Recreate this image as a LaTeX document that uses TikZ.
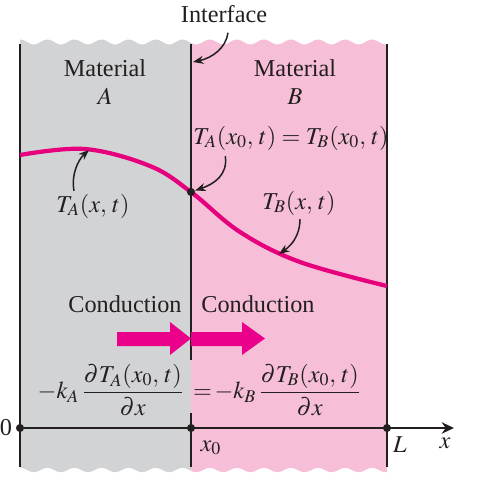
\documentclass[tikz,border=0pt]{standalone}
\usepackage{amsmath}
\usepackage{mathptmx}
\usepackage[no-math]{fontspec}
\setmainfont{Liberation Serif}
\usepackage{tikz}
\usetikzlibrary{arrows.meta, calc}
\usepackage{xcolor}
\definecolor{ink}{HTML}{231F20}
\definecolor{greyA}{HTML}{D2D3D5}
\definecolor{pinkB}{HTML}{F7BFD7}
\definecolor{magline}{HTML}{E6007E}
\definecolor{magflux}{HTML}{EB008B}
\tikzset{
    lbl/.style={
        inner sep=1pt, text=ink,
        font=\fontsize{13.8}{16}\selectfont, align=center
    },
    slabA/.style={fill=greyA},
    slabB/.style={fill=pinkB},
    wall/.style={line width=1.2pt, draw=ink},
    profile/.style={line width=2.4pt, draw=magline},
    flux/.style={fill=magflux},
    callout/.style={-{Stealth[length=6pt, width=4.6pt]}, line width=0.85pt, draw=ink},
    axisline/.style={-{Stealth[length=7pt, width=6.5pt]}, line width=1.1pt, draw=ink},
    dot/.style={circle, fill=ink, inner sep=0pt, minimum size=4.6pt}
}
\begin{document}
\begin{tikzpicture}[x=0.02cm, y=-0.02cm]
    \useasboundingbox (0,0) rectangle (479,486);
    % the two slabs with torn edges
    \fill[slabA] (20,469) -- plot[domain=20:191, samples=70] (\x,{42+2.5*sin(13.3*\x)})
        -- (191,469) -- plot[domain=191:20, samples=70] (\x,{470+2.2*sin(13.3*\x)}) -- cycle;
    \fill[slabB] (191,469) -- plot[domain=191:387, samples=80] (\x,{42+2.5*sin(13.3*\x)})
        -- (387,469) -- plot[domain=387:191, samples=80] (\x,{470+2.2*sin(13.3*\x)}) -- cycle;
    \draw[wall] (20,44) -- (20,467);
    \draw[wall] (387,44) -- (387,467);
    \draw[wall] (191,44) -- (191,360);
    \draw[wall] (191,413) -- (191,467);

    \draw[profile] plot[smooth, tension=0.6] coordinates
        {(20,155) (85,149) (150,166) (191,192) (240,232) (300,262) (387,286)};

    \fill[flux] (117,332) -- (170,332) -- (170,322) -- (191,338.5)
        -- (170,355) -- (170,346) -- (117,346) -- cycle;
    \fill[flux] (191,332) -- (242,332) -- (242,322) -- (265,338.5)
        -- (242,355) -- (242,346) -- (191,346) -- cycle;

    \node[lbl] (iflbl) at (224,14) {Interface};
    \node[lbl] (matAlbl) at (105,82) {Material\\$A$};
    \node[lbl] (matBlbl) at (295,82) {Material\\$B$};
    \node[lbl] (tab) at (291,138) {$T_A(x_0,\,t) = T_B(x_0,\,t)$};
    \node[lbl] (taxt) at (93,206) {$T_A(x,\,t)$};
    \node[lbl] (tbxt) at (299,203) {$T_B(x,\,t)$};
    \node[lbl] (condA) at (125,304) {Conduction};
    \node[lbl] (condB) at (258,304) {Conduction};
    \node[lbl, anchor=east] (fluxA) at (186,390) {${-}k_A\,\dfrac{\partial T_A(x_0,\,t)}{\partial x}$};
    \node[lbl, anchor=west] (fluxB) at (191,390) {${=}\,{-}k_B\,\dfrac{\partial T_B(x_0,\,t)}{\partial x}$};

    \node[dot] (meet) at (191,192) {};
    \coordinate (ifpt) at (193,62);
    \coordinate (peak) at (89,150);
    \coordinate (tbpt) at (279,254);

    \draw[callout] ($(iflbl.south)+(4,8)$) .. controls (226,48) and (212,58) .. (ifpt);
    \draw[callout] ($(tab.south west)+(34,4)$) .. controls (228,175) and (214,184) .. (meet);
    \draw[callout] ($(taxt.north)+(-19,-1)$) .. controls (71,175) and (78,160) .. (peak);
    \draw[callout] ($(tbxt.south)+(1,2)$) .. controls (300,235) and (292,245) .. (tbpt);

    % x axis
    \node[dot] (orig) at (20,428) {};
    \node[dot] (xnaught) at (191,428) {};
    \node[dot] (xL) at (387,428) {};
    \coordinate (xend) at (454,428);
    \draw[axisline] (orig) -- (xend);
    \node[lbl] (zero) at (6,428) {0};
    \node[lbl] (x0lbl) at (211,448) {$x_0$};
    \node[lbl] (Llbl) at (400,445) {$L$};
    \node[lbl] (xlbl) at (445,443) {$x$};
\end{tikzpicture}
\end{document}
